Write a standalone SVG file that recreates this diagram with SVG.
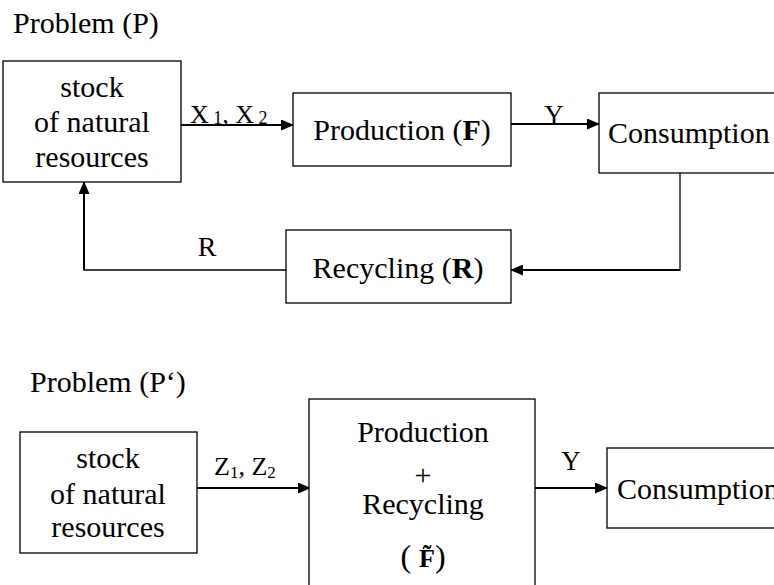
<svg xmlns="http://www.w3.org/2000/svg" width="774" height="585" viewBox="0 0 774 585">
<style>
.box{fill:#fff;stroke:#000;stroke-width:1.3}
.t{font-family:"Liberation Serif","Times New Roman",serif;fill:#000}
.c{text-anchor:middle}
.ln{fill:none;stroke:#000;stroke-width:2}
.thin{fill:none;stroke:#000;stroke-width:1.3}
</style>
<defs>
<marker id="ah" markerWidth="13" markerHeight="11" refX="12" refY="5.5" orient="auto" markerUnits="userSpaceOnUse">
<path d="M0,0 L13,5.5 L0,11 Z" fill="#000"/>
</marker>
</defs>
<rect width="774" height="585" fill="#fff"/>
<text class="t" x="13" y="33" font-size="30">Problem (P)</text>
<text class="t" x="30" y="392" font-size="30">Problem (P‘)</text>
<g id="connectors">
<line class="ln" x1="181" y1="125" x2="293" y2="125" marker-end="url(#ah)"/>
<line class="ln" x1="511" y1="124" x2="599" y2="124" marker-end="url(#ah)"/>
<polyline class="thin" points="680,173 680,270 600,270"/>
<line class="ln" x1="680" y1="270" x2="511" y2="270" marker-end="url(#ah)"/>
<polyline class="thin" points="286,270 84,270 84,200"/>
<line class="ln" x1="84" y1="270" x2="84" y2="182" marker-end="url(#ah)"/>
<line class="ln" x1="197" y1="488" x2="310" y2="488" marker-end="url(#ah)"/>
<line class="ln" x1="535" y1="488" x2="607" y2="488" marker-end="url(#ah)"/>
<text class="t" x="190" y="123" font-size="26">X<tspan font-size="18" dy="1"> 1</tspan><tspan dy="-1" font-size="26">, X</tspan><tspan font-size="18" dy="1"> 2</tspan></text>
<text class="t c" x="554" y="124" font-size="27">Y</text>
<text class="t c" x="207" y="256" font-size="28">R</text>
<text class="t" x="214" y="475" font-size="26">Z<tspan font-size="17" dy="3">1</tspan><tspan dy="-3" font-size="26">, Z</tspan><tspan font-size="17" dy="3">2</tspan></text>
<text class="t c" x="571" y="470" font-size="27">Y</text>
</g>
<g id="stock1">
<rect class="box" x="3" y="61" width="178" height="121"/>
<text class="t c" x="92" y="97" font-size="30">stock</text>
<text class="t c" x="92" y="132" font-size="30">of natural</text>
<text class="t c" x="92" y="167" font-size="30">resources</text>
</g>
<g id="production1">
<rect class="box" x="293" y="93" width="218" height="73"/>
<text class="t c" x="402" y="140" font-size="30">Production (<tspan font-weight="bold">F</tspan>)</text>
</g>
<g id="consumption1">
<rect class="box" x="599" y="93" width="180" height="80"/>
<text class="t" x="608" y="143" font-size="30">Consumption</text>
</g>
<g id="recycling1">
<rect class="box" x="286" y="230" width="225" height="73"/>
<text class="t c" x="398" y="278" font-size="30">Recycling (<tspan font-weight="bold">R</tspan>)</text>
</g>
<g id="stock2">
<rect class="box" x="20" y="432" width="177" height="121"/>
<text class="t c" x="108" y="468" font-size="30">stock</text>
<text class="t c" x="108" y="504" font-size="30">of natural</text>
<text class="t c" x="108" y="537" font-size="30">resources</text>
</g>
<g id="prodrec2">
<rect class="box" x="309" y="399" width="226" height="200"/>
<text class="t c" x="423" y="442" font-size="30">Production</text>
<text class="t c" x="423" y="485" font-size="30">+</text>
<text class="t c" x="423" y="514" font-size="30">Recycling</text>
<text class="t c" x="423" y="567" font-size="32">( <tspan font-weight="bold" font-size="26">F̃</tspan>)</text>
</g>
<g id="consumption2">
<rect class="box" x="607" y="448" width="180" height="80"/>
<text class="t" x="617" y="499" font-size="30">Consumption</text>
</g>
</svg>
